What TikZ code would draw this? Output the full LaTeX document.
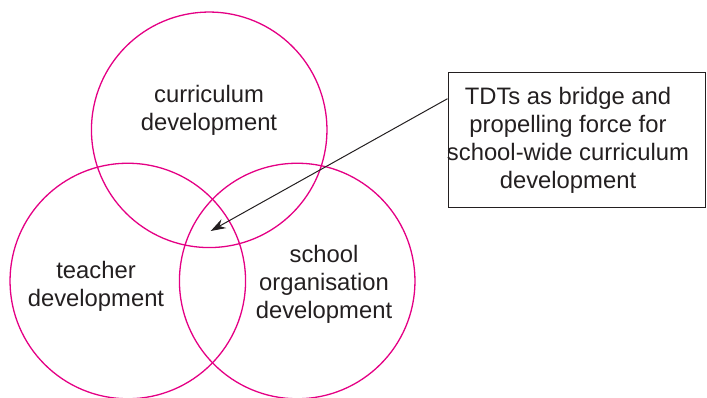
\documentclass[tikz,border=0pt]{standalone}
\usepackage{fontspec}
\setmainfont{Liberation Sans}
\usetikzlibrary{arrows.meta,calc}
\definecolor{venn}{RGB}{228,0,132}
\definecolor{ink}{RGB}{35,31,32}
\begin{document}
\begin{tikzpicture}[x=1pt,y=-1pt,
  vcircle/.style={circle,draw=venn,line width=1.3pt,minimum size=235.5pt,inner sep=0pt},
  lbl/.style={align=center,text=ink,font=\fontsize{23.8}{28}\selectfont,inner sep=0pt},
  callout/.style={draw=ink,line width=1pt,minimum width=257pt,minimum height=135pt,inner sep=0pt},
  pointer/.style={draw=ink,line width=1pt,-{Stealth[length=15pt,width=10pt]}}]
\useasboundingbox (0,0) rectangle (707,397);
\node[vcircle] (cur) at (209.2,129.8) {};
\node[vcircle] (tea) at (127.8,281) {};
\node[vcircle] (sch) at (297.2,281) {};
\node[lbl] (curl) at (209,110.5) {curriculum\\development};
\node[lbl] (teal) at (96,286) {teacher\\development};
\node[lbl] (schl) at (324,284) {school\\organisation\\development};
\node[callout] (box) at (576.5,139.5) {};
\node[lbl] (boxl) at (568,140.5) {TDTs as bridge and\\propelling force for\\school-wide curriculum\\development};
\coordinate (start) at ($(box.north west)!0.2!(box.south west)$);
\coordinate (tip) at (210.7,231);
\draw[pointer] (start) -- (tip);
\end{tikzpicture}
\end{document}
